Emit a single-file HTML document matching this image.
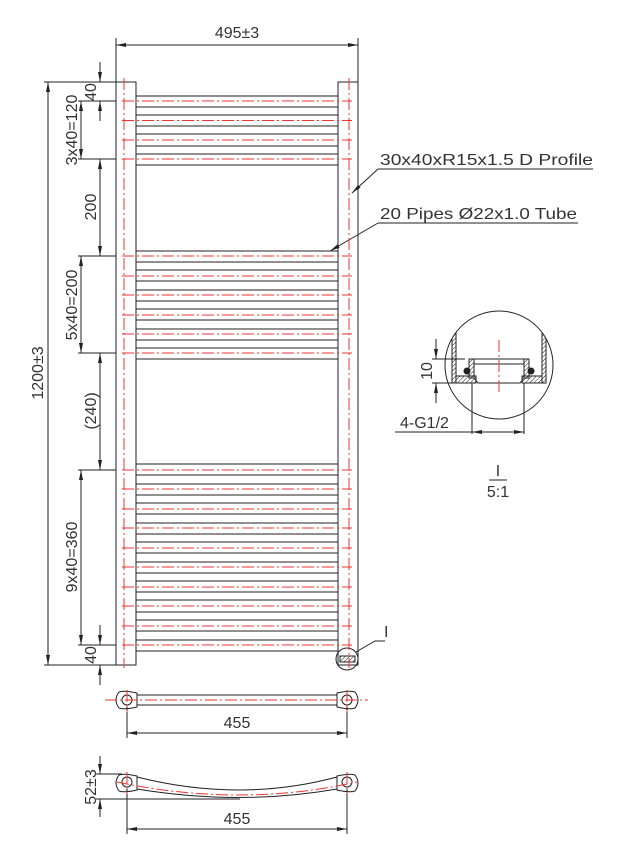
<!DOCTYPE html>
<html><head><meta charset="utf-8"><style>
html,body{margin:0;padding:0;background:#fff;}
svg{display:block;}
text{font-family:"Liberation Sans",sans-serif;fill:#333;font-size:16px;}
</style></head><body>
<svg width="635" height="858" viewBox="0 0 635 858" xmlns="http://www.w3.org/2000/svg">
<defs>
<marker id="a" viewBox="0 0 10 4" refX="10" refY="2" markerWidth="10" markerHeight="4" orient="auto-start-reverse" markerUnits="userSpaceOnUse"><path d="M0,0 L10,2 L0,4z" fill="#222"/></marker>
<pattern id="h" width="3" height="3" patternUnits="userSpaceOnUse" patternTransform="rotate(45)"><line x1="0" y1="0" x2="0" y2="3" stroke="#222" stroke-width="1"/></pattern>
<clipPath id="c"><circle cx="499" cy="365" r="54"/></clipPath>
</defs>
<g stroke="#222" stroke-width="1" fill="none">
<rect x="116" y="82" width="20" height="583"/>
<rect x="338" y="82" width="20" height="583"/>
<path d="M136,96H338M136,107H338 M136,115H338M136,126H338 M136,134H338M136,146H338 M136,154H338M136,165H338
M136,251H338M136,262H338 M136,270H338M136,281H338 M136,290H338M136,301H338 M136,309H338M136,320H338 M136,329H338M136,340H338 M136,348H338M136,359H338
M136,464H338M136,475H338 M136,484H338M136,495H338 M136,503H338M136,514H338 M136,523H338M136,534H338 M136,542H338M136,553H338 M136,562H338M136,573H338 M136,581H338M136,592H338 M136,600H338M136,612H338 M136,620H338M136,631H338 M136,640H338M136,651H338"/>
<path d="M116,82V38 M358,82V38"/>
<line x1="116" y1="45" x2="358" y2="45" marker-start="url(#a)" marker-end="url(#a)"/>
<path d="M116,82H44 M116,665H44 M116,101H78 M116,159H78 M116,256H78 M116,353H78 M116,470H78 M116,645H78"/>
<line x1="48" y1="82" x2="48" y2="665" marker-start="url(#a)" marker-end="url(#a)"/>
<line x1="100" y1="62" x2="100" y2="82" marker-end="url(#a)"/>
<line x1="100" y1="121" x2="100" y2="101" marker-end="url(#a)"/>
<line x1="81" y1="101" x2="81" y2="159" marker-start="url(#a)" marker-end="url(#a)"/>
<line x1="100" y1="159" x2="100" y2="256" marker-start="url(#a)" marker-end="url(#a)"/>
<line x1="81" y1="256" x2="81" y2="353" marker-start="url(#a)" marker-end="url(#a)"/>
<line x1="100" y1="353" x2="100" y2="470" marker-start="url(#a)" marker-end="url(#a)"/>
<line x1="81" y1="470" x2="81" y2="645" marker-start="url(#a)" marker-end="url(#a)"/>
<line x1="100" y1="625" x2="100" y2="645" marker-end="url(#a)"/>
<line x1="100" y1="685" x2="100" y2="665" marker-end="url(#a)"/>
<path d="M593,169H378"/>
<line x1="378" y1="169" x2="352" y2="193" marker-end="url(#a)"/>
<path d="M578,223H378"/>
<line x1="378" y1="223" x2="330" y2="251" marker-end="url(#a)"/>
<!-- detail circle -->
<circle cx="499" cy="365" r="54"/>
<g clip-path="url(#c)">
<rect x="452" y="300" width="4" height="83" fill="url(#h)"/>
<rect x="542" y="300" width="4" height="83" fill="url(#h)"/>
</g>
<rect x="456" y="376" width="20" height="7" fill="url(#h)"/>
<rect x="522" y="376" width="20" height="7" fill="url(#h)"/>
<rect x="469" y="359" width="5" height="19" fill="url(#h)"/>
<rect x="524" y="359" width="5" height="19" fill="url(#h)"/>
<path d="M469,359H529 M474,364H524 M474,378L478,383H520L524,378"/>
<circle cx="467" cy="371" r="3" fill="#222"/>
<circle cx="531" cy="371" r="3" fill="#222"/>
<path d="M432,359H465 M432,383H452 M472,383V434 M524,383V434 M395,432H472"/>
<line x1="436" y1="339" x2="436" y2="359" marker-end="url(#a)"/>
<line x1="436" y1="403" x2="436" y2="383" marker-end="url(#a)"/>
<line x1="472" y1="432" x2="524" y2="432" marker-start="url(#a)" marker-end="url(#a)"/>
<path d="M489,480H507"/>
<circle cx="347" cy="659" r="11"/>
<rect x="340" y="656" width="15" height="6" fill="url(#h)"/>
<path d="M356,652L375,641H385"/>
<!-- bottom view 1 -->
<path d="M137,695H337 M137,705H337"/>
<path d="M119,692Q124,690 137,693V707Q124,710 119,708Q113,700 119,692Z"/>
<path d="M355,692Q350,690 337,693V707Q350,710 355,708Q361,700 355,692Z"/>
<circle cx="127" cy="700" r="5"/><circle cx="347" cy="700" r="5"/>
<path d="M127,706V738 M347,706V738"/>
<line x1="127" y1="733" x2="347" y2="733" marker-start="url(#a)" marker-end="url(#a)"/>
<!-- bottom view 2 -->
<path d="M137,777Q240,803 337,777 M137,789Q240,806 337,789"/>
<path d="M119,775Q124,773 137,776V790Q124,793 119,791Q113,783 119,775Z"/>
<path d="M355,775Q350,773 337,776V790Q350,793 355,791Q361,783 355,775Z"/>
<circle cx="127" cy="782" r="5"/><circle cx="347" cy="782" r="5"/>
<path d="M127,788V834 M347,788V834 M96,774H122 M96,799H240"/>
<line x1="100" y1="756" x2="100" y2="774" marker-end="url(#a)"/>
<line x1="100" y1="817" x2="100" y2="799" marker-end="url(#a)"/>
<line x1="127" y1="829" x2="347" y2="829" marker-start="url(#a)" marker-end="url(#a)"/>
</g>
<g stroke="#e33" stroke-width="1" stroke-dasharray="12,3,2,3" fill="none">
<path d="M124,78V668 M349,78V668"/>
<path d="M122,101H352M122,120.5H352M122,140H352M122,159H352
M122,256H352M122,276H352M122,295H352M122,315H352M122,334H352M122,353H352
M122,470H352M122,489H352M122,509H352M122,528H352M122,548H352M122,567H352M122,587H352M122,606H352M122,626H352M122,645H352"/>
<path d="M499,340V395"/>
<path d="M105,700H368 M127,690V712 M347,690V712"/>
<path d="M117,782Q240,808 357,782 M127,772V794 M347,772V794"/>
</g>
<g>
<text x="237" y="38" text-anchor="middle">495±3</text>
<text transform="translate(43,373) rotate(-90)" text-anchor="middle">1200±3</text>
<text transform="translate(96,92) rotate(-90)" text-anchor="middle">40</text>
<text transform="translate(77,130) rotate(-90)" text-anchor="middle">3x40=120</text>
<text transform="translate(96,207) rotate(-90)" text-anchor="middle">200</text>
<text transform="translate(77,305) rotate(-90)" text-anchor="middle">5x40=200</text>
<text transform="translate(96,411) rotate(-90)" text-anchor="middle">(240)</text>
<text transform="translate(77,557) rotate(-90)" text-anchor="middle">9x40=360</text>
<text transform="translate(96,655) rotate(-90)" text-anchor="middle">40</text>
<text x="380" y="165" textLength="213" lengthAdjust="spacingAndGlyphs">30x40xR15x1.5 D Profile</text>
<text x="380" y="219" textLength="197" lengthAdjust="spacingAndGlyphs">20 Pipes Ø22x1.0 Tube</text>
<text transform="translate(432,371) rotate(-90)" text-anchor="middle">10</text>
<text x="400" y="428">4-G1/2</text>
<text x="498" y="476" text-anchor="middle">I</text>
<text x="498" y="497" text-anchor="middle">5:1</text>
<text x="384" y="637">I</text>
<text x="237" y="728" text-anchor="middle" font-size="17">455</text>
<text transform="translate(96,787) rotate(-90)" text-anchor="middle">52±3</text>
<text x="237" y="824" text-anchor="middle" font-size="17">455</text>
</g>
</svg>
</body></html>
